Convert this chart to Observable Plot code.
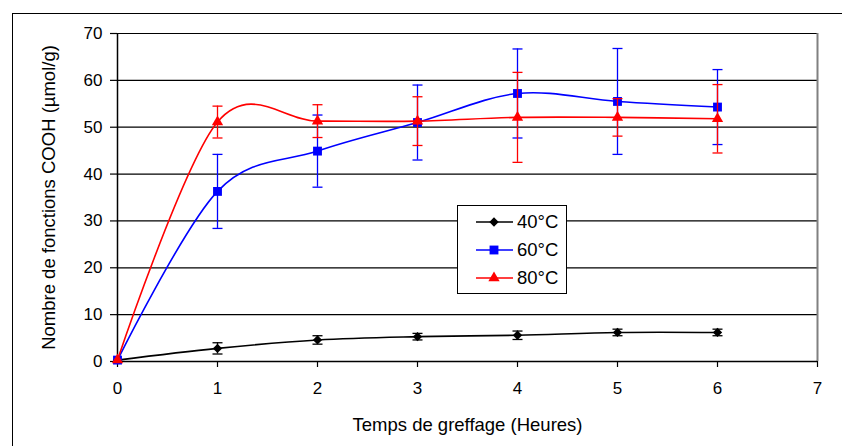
<!DOCTYPE html>
<html>
<head>
<meta charset="utf-8">
<script src="https://cdn.jsdelivr.net/npm/d3@7"></script>
<script src="https://cdn.jsdelivr.net/npm/@observablehq/plot@0.6"></script>
<style>
  html, body { margin: 0; padding: 0; background: #fff; }
  #wrap { position: relative; width: 842px; height: 446px; overflow: hidden; background: #fff; font-family: "Liberation Sans", Arial, sans-serif; }
  #outer { position: absolute; left: 12px; top: 13px; width: 900px; height: 500px; border-left: 1.5px solid #000; border-top: 1.5px solid #000; pointer-events: none; }
  #legend { position: absolute; left: 457px; top: 205px; width: 108px; height: 87px; border: 1px solid #000; background: #fff; }
  #legend svg { position: absolute; left: 0; top: 0; }
</style>
</head>
<body>
<div id="wrap">
  <div id="chart"></div>
  <div id="outer"></div>
  <div id="legend"></div>
</div>
<script>
// ---- data ----
const hours = [0, 1, 2, 3, 4, 5, 6];
const series = ["40°C", "60°C", "80°C"];
const colors = ["#000000", "#0000ff", "#ff0000"];
const symbols = ["diamond2", "square", "triangle"];
const v40 = [0.3, 2.8, 4.6, 5.3, 5.6, 6.2, 6.2];
const e40 = [0, 1.2, 0.9, 0.7, 0.9, 0.7, 0.7];
const v60 = [0.3, 36.3, 44.9, 51.0, 57.2, 55.5, 54.3];
const e60 = [0, 7.9, 7.7, 8.0, 9.5, 11.3, 8.0];
const v80 = [0.3, 51.1, 51.3, 51.3, 52.1, 52.1, 51.8];
const e80 = [0, 3.4, 3.5, 5.2, 9.6, 4.0, 7.3];
const xTicks = [0, 1, 2, 3, 4, 5, 6, 7];
const yTicks = [0, 10, 20, 30, 40, 50, 60, 70];
const xTitle = "Temps de greffage (Heures)";
const yTitle = "Nombre de fonctions COOH (µmol/g)";

const values = [v40, v60, v80];
const errors = [e40, e60, e80];
const markerR = [4.2, 5, 4.2];
const rows = series.map((s, i) => hours.map((h, j) => ({series: s, h, v: values[i][j], e: errors[i][j], k: i})));

// horizontal cap symbol for error bars
const cap = { draw(ctx, size) { const r = Math.sqrt(size / Math.PI); ctx.moveTo(-r, 0); ctx.lineTo(r, 0); } };

const seriesMarks = rows.flatMap((d, i) => {
  const withErr = d.filter(p => p.e > 0);
  return [
    Plot.line(d, {x: "h", y: "v", stroke: colors[i], strokeWidth: 1.6, curve: "cardinal", tension: 0}),
    Plot.ruleX(withErr, {x: "h", y1: p => p.v - p.e, y2: p => p.v + p.e, stroke: colors[i], strokeWidth: 1.3}),
    Plot.dot(withErr, {x: "h", y: p => p.v - p.e, symbol: cap, r: 5, stroke: colors[i], strokeWidth: 1.3, fill: "none"}),
    Plot.dot(withErr, {x: "h", y: p => p.v + p.e, symbol: cap, r: 5, stroke: colors[i], strokeWidth: 1.3, fill: "none"}),
    Plot.dot(d, {x: "h", y: "v", symbol: symbols[i], r: markerR[i], fill: colors[i], stroke: "none"})
  ];
});

const chart = Plot.plot({
  width: 842,
  height: 446,
  marginLeft: 117,
  marginRight: 25,
  marginTop: 33,
  marginBottom: 85,
  style: {fontFamily: "'Liberation Sans', Arial, sans-serif", fontSize: "17px", color: "#000", background: "transparent"},
  x: {domain: [0, 7]},
  y: {domain: [0, 70]},
  marks: [
    Plot.ruleY(yTicks.filter(t => t > 0), {stroke: "#000", strokeWidth: 1.2}),
    Plot.ruleX([7], {stroke: "#808080", strokeWidth: 2}),
    Plot.axisY({ticks: yTicks, tickFormat: d => String(d), tickSize: 7, tickPadding: 8, label: null, stroke: "#000", strokeWidth: 1.2}),
    Plot.axisX({ticks: xTicks, tickFormat: d => String(d), tickSize: 6, tickPadding: 14, label: null, stroke: "#000", strokeWidth: 1.2}),
    Plot.ruleX([0], {stroke: "#000", strokeWidth: 1.5}),
    Plot.ruleY([0], {stroke: "#000", strokeWidth: 1.5}),
    ...seriesMarks,
    Plot.text([yTitle], {frameAnchor: "left", dx: -68, rotate: -90, textAnchor: "middle", lineAnchor: "middle", fontSize: 18.5, fill: "#000"}),
    Plot.text([xTitle], {frameAnchor: "bottom", dy: 64, textAnchor: "middle", lineAnchor: "middle", fontSize: 18.5, fill: "#000"})
  ]
});
document.getElementById("chart").appendChild(chart);

// legend
const lg = d3.select("#legend").append("svg").attr("width", 108).attr("height", 87);
series.forEach((s, i) => {
  const cy = 16 + i * 28;
  lg.append("line").attr("x1", 18).attr("x2", 55).attr("y1", cy).attr("y2", cy).attr("stroke", colors[i]).attr("stroke-width", 1.6);
  const sym = {diamond2: d3.symbolDiamond2, square: d3.symbolSquare, triangle: d3.symbolTriangle}[symbols[i]];
  const r = markerR[i];
  lg.append("path").attr("d", d3.symbol(sym, Math.PI * r * r)()).attr("transform", `translate(36,${cy})`).attr("fill", colors[i]);
  lg.append("text").attr("x", 59).attr("y", cy).attr("dy", "0.35em").attr("font-size", 18.5).attr("font-family", "'Liberation Sans', Arial, sans-serif").attr("fill", "#000").text(s);
});
</script>
</body>
</html>
